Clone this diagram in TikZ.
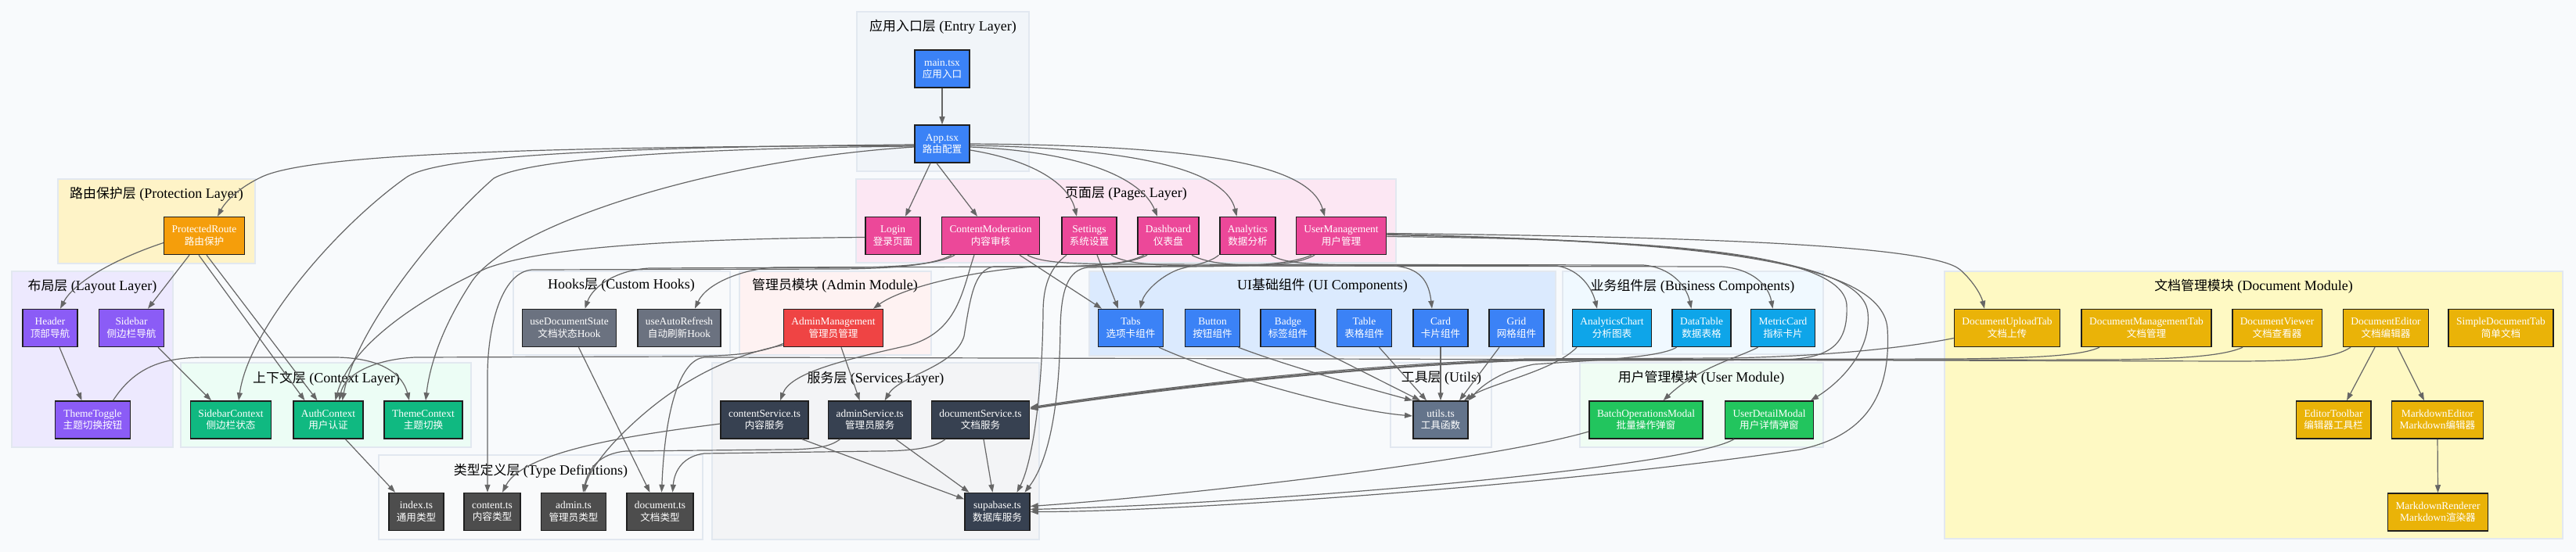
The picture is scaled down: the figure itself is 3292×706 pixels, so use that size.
\documentclass[tikz,border=0pt]{standalone}
\usepackage{fontspec}
\setmainfont{Liberation Serif}
\newfontfamily\cjkfont[Scale=0.94]{Noto Sans CJK SC}
\newcommand{\zhtext}[1]{{\cjkfont #1}}
\newcommand{\nodefont}{\fontsize{13.4}{15.5}\selectfont}
\newcommand{\titlefont}{\fontsize{18}{21}\selectfont}
\usetikzlibrary{arrows.meta}
\definecolor{bgc}{HTML}{F8FAFC}
\definecolor{clborder}{HTML}{E2E8F0}
\definecolor{edgec}{HTML}{666666}
\definecolor{nborder}{HTML}{1F1F1F}
\definecolor{cEntry}{HTML}{F1F5F9}
\definecolor{cPages}{HTML}{FCE7F3}
\definecolor{cProt}{HTML}{FEF3C7}
\definecolor{cLayout}{HTML}{EDE9FE}
\definecolor{cCtx}{HTML}{ECFDF5}
\definecolor{cTypes}{HTML}{F9FAFB}
\definecolor{cHooks}{HTML}{F9FAFB}
\definecolor{cAdmin}{HTML}{FEF2F2}
\definecolor{cSvc}{HTML}{F3F4F6}
\definecolor{cUI}{HTML}{DBEAFE}
\definecolor{cUtils}{HTML}{F8FAFC}
\definecolor{cBiz}{HTML}{F0F9FF}
\definecolor{cUser}{HTML}{F0FDF4}
\definecolor{cDoc}{HTML}{FEF9C3}
\definecolor{nBlue}{HTML}{3B82F6}
\definecolor{nPink}{HTML}{EC4899}
\definecolor{nAmber}{HTML}{F59E0B}
\definecolor{nViolet}{HTML}{8B5CF6}
\definecolor{nEmerald}{HTML}{10B981}
\definecolor{nType}{HTML}{4D4D4D}
\definecolor{nHook}{HTML}{6B7280}
\definecolor{nRed}{HTML}{EF4444}
\definecolor{nSvc}{HTML}{374151}
\definecolor{nSlate}{HTML}{64748B}
\definecolor{nSky}{HTML}{0EA5E9}
\definecolor{nGreen}{HTML}{22C55E}
\definecolor{nYellow}{HTML}{EAB308}
\tikzset{
  nbox/.style={fill=#1, draw=nborder, line width=1.5pt, minimum height=48pt,
    inner xsep=10pt, inner ysep=1pt, align=center, text=white, font=\nodefont},
  cluster/.style={fill=#1, draw=clborder, line width=1.2pt},
  ctitle/.style={font=\titlefont, text=black, inner sep=0pt},
  conn/.style={draw=edgec, line width=1.2pt, -{Triangle[length=10pt,width=7pt]}}
}
\begin{document}
\begin{tikzpicture}[x=1pt,y=-1pt]
\useasboundingbox (0,0) rectangle (3292,706);
\fill[bgc] (0,0) rectangle (3292,706);
% clusters
\path[cluster=cEntry] (1095,15) rectangle (1315,219);
\path[cluster=cPages] (1094,229) rectangle (1784,336);
\path[cluster=cProt] (74,229) rectangle (326,337);
\path[cluster=cLayout] (15,347) rectangle (221,572);
\path[cluster=cCtx] (231,464) rectangle (602,572);
\path[cluster=cTypes] (484,582) rectangle (898,690);
\path[cluster=cHooks] (656,347) rectangle (933,454);
\path[cluster=cAdmin] (945,347) rectangle (1190,454);
\path[cluster=cSvc] (910,464) rectangle (1328,690);
\path[cluster=cUI] (1392,347) rectangle (1988,455);
\path[cluster=cUtils] (1777,464) rectangle (1906,572);
\path[cluster=cBiz] (1997,347) rectangle (2330,453);
\path[cluster=cUser] (2019,464) rectangle (2330,572);
\path[cluster=cDoc] (2485,347) rectangle (3275,689);
% titles
\node[ctitle] (tEntry) at (1205,34) {\zhtext{应用入口层} (Entry Layer)};
\node[ctitle] (tPages) at (1439,248) {\zhtext{页面层} (Pages Layer)};
\node[ctitle] (tProt) at (200,248) {\zhtext{路由保护层} (Protection Layer)};
\node[ctitle] (tLayout) at (118,366) {\zhtext{布局层} (Layout Layer)};
\node[ctitle] (tCtx) at (417,484) {\zhtext{上下文层} (Context Layer)};
\node[ctitle] (tTypes) at (691,602) {\zhtext{类型定义层} (Type Definitions)};
\node[ctitle] (tHooks) at (794,365) {Hooks\zhtext{层} (Custom Hooks)};
\node[ctitle] (tAdmin) at (1067,365) {\zhtext{管理员模块} (Admin Module)};
\node[ctitle] (tSvc) at (1119,484) {\zhtext{服务层} (Services Layer)};
\node[ctitle] (tUI) at (1690,365) {UI\zhtext{基础组件} (UI Components)};
\node[ctitle] (tUtils) at (1842,484) {\zhtext{工具层} (Utils)};
\node[ctitle] (tBiz) at (2163,366) {\zhtext{业务组件层} (Business Components)};
\node[ctitle] (tUser) at (2174,483) {\zhtext{用户管理模块} (User Module)};
\node[ctitle] (tDoc) at (2880,366) {\zhtext{文档管理模块} (Document Module)};
% nodes
\node[nbox=nBlue] (main) at (1204,88) {main.tsx\\\zhtext{应用入口}};
\node[nbox=nBlue] (app) at (1204,184) {App.tsx\\\zhtext{路由配置}};
\node[nbox=nPink] (login) at (1141,301.5) {Login\\\zhtext{登录页面}};
\node[nbox=nPink] (cm) at (1266,301.5) {ContentModeration\\\zhtext{内容审核}};
\node[nbox=nPink] (settings) at (1392,301.5) {Settings\\\zhtext{系统设置}};
\node[nbox=nPink] (dash) at (1493,301.5) {Dashboard\\\zhtext{仪表盘}};
\node[nbox=nPink] (analytics) at (1594.5,301.5) {Analytics\\\zhtext{数据分析}};
\node[nbox=nPink] (um) at (1714,301.5) {UserManagement\\\zhtext{用户管理}};
\node[nbox=nAmber] (pr) at (261,301.5) {ProtectedRoute\\\zhtext{路由保护}};
\node[nbox=nViolet] (header) at (64,419.5) {Header\\\zhtext{顶部导航}};
\node[nbox=nViolet] (sidebar) at (168,419.5) {Sidebar\\\zhtext{侧边栏导航}};
\node[nbox=nViolet] (ttoggle) at (118.5,537) {ThemeToggle\\\zhtext{主题切换按钮}};
\node[nbox=nEmerald] (sbctx) at (295,537) {SidebarContext\\\zhtext{侧边栏状态}};
\node[nbox=nEmerald] (authctx) at (419.5,537) {AuthContext\\\zhtext{用户认证}};
\node[nbox=nEmerald] (themectx) at (541,537) {ThemeContext\\\zhtext{主题切换}};
\node[nbox=nType] (indexts) at (532,654.5) {index.ts\\\zhtext{通用类型}};
\node[nbox=nType] (contentts) at (629,654.5) {content.ts\\\zhtext{内容类型}};
\node[nbox=nType] (admints) at (733,654.5) {admin.ts\\\zhtext{管理员类型}};
\node[nbox=nType] (documentts) at (843.5,654.5) {document.ts\\\zhtext{文档类型}};
\node[nbox=nHook] (uds) at (727.5,419.5) {useDocumentState\\\zhtext{文档状态}Hook};
\node[nbox=nHook] (uar) at (868,419.5) {useAutoRefresh\\\zhtext{自动刷新}Hook};
\node[nbox=nRed] (am) at (1065,419.5) {AdminManagement\\\zhtext{管理员管理}};
\node[nbox=nSvc] (csvc) at (977,537) {contentService.ts\\\zhtext{内容服务}};
\node[nbox=nSvc] (asvc) at (1111.6,537) {adminService.ts\\\zhtext{管理员服务}};
\node[nbox=nSvc] (dsvc) at (1253,537) {documentService.ts\\\zhtext{文档服务}};
\node[nbox=nSvc] (supa) at (1274.5,654.5) {supabase.ts\\\zhtext{数据库服务}};
\node[nbox=nBlue] (tabs) at (1445,419.5) {Tabs\\\zhtext{选项卡组件}};
\node[nbox=nBlue] (button) at (1549.5,419.5) {Button\\\zhtext{按钮组件}};
\node[nbox=nBlue] (badge) at (1646,419.5) {Badge\\\zhtext{标签组件}};
\node[nbox=nBlue] (table) at (1743.5,419.5) {Table\\\zhtext{表格组件}};
\node[nbox=nBlue] (card) at (1841,419.5) {Card\\\zhtext{卡片组件}};
\node[nbox=nBlue] (grid) at (1938,419.5) {Grid\\\zhtext{网格组件}};
\node[nbox=nSlate] (utils) at (1841,537) {utils.ts\\\zhtext{工具函数}};
\node[nbox=nSky] (achart) at (2060,419.5) {AnalyticsChart\\\zhtext{分析图表}};
\node[nbox=nSky] (dtable) at (2174.5,419.5) {DataTable\\\zhtext{数据表格}};
\node[nbox=nSky] (mcard) at (2278.5,419.5) {MetricCard\\\zhtext{指标卡片}};
\node[nbox=nGreen] (batch) at (2103.5,537) {BatchOperationsModal\\\zhtext{批量操作弹窗}};
\node[nbox=nGreen] (udetail) at (2261,537) {UserDetailModal\\\zhtext{用户详情弹窗}};
\node[nbox=nYellow] (dut) at (2565,419.5) {DocumentUploadTab\\\zhtext{文档上传}};
\node[nbox=nYellow] (dmt) at (2743,419.5) {DocumentManagementTab\\\zhtext{文档管理}};
\node[nbox=nYellow] (dview) at (2910,419.5) {DocumentViewer\\\zhtext{文档查看器}};
\node[nbox=nYellow] (dedit) at (3049,419.5) {DocumentEditor\\\zhtext{文档编辑器}};
\node[nbox=nYellow] (sdt) at (3196,419.5) {SimpleDocumentTab\\\zhtext{简单文档}};
\node[nbox=nYellow] (etool) at (2982,537) {EditorToolbar\\\zhtext{编辑器工具栏}};
\node[nbox=nYellow] (mdedit) at (3115,537) {MarkdownEditor\\Markdown\zhtext{编辑器}};
\node[nbox=nYellow] (mdrend) at (3115.5,655) {MarkdownRenderer\\Markdown\zhtext{渲染器}};
% edges: entry
\draw[conn] (main.south) -- (app.north);
\draw[conn] ([xshift=-15pt]app.south) -- ([xshift=16pt]login.north);
\draw[conn] ([xshift=-7pt]app.south) -- ([xshift=-17pt]cm.north);
\draw[conn] ([yshift=-8pt]app.east) .. controls (1320,205) and (1366,235) .. ([xshift=-16pt]settings.north);
\draw[conn] ([yshift=-4pt]app.east) .. controls (1400,195) and (1462,235) .. ([xshift=-14pt]dash.north);
\draw[conn] ([yshift=-2pt]app.east) .. controls (1480,190) and (1568,225) .. ([xshift=-14pt]analytics.north);
\draw[conn] (app.east) .. controls (1560,186) and (1675,215) .. ([xshift=-21pt]um.north);
\draw[conn] ([yshift=-2pt]app.west) .. controls (700,188) and (400,196) .. (335,226) .. controls (305,240) and (288,258) .. ([xshift=17pt]pr.north);
\draw[conn] ([yshift=-1pt]app.west) .. controls (800,188) and (560,198) .. (519,227) .. controls (430,290) and (318,420) .. ([xshift=10pt]sbctx.north);
\draw[conn] ([yshift=-3pt]app.west) .. controls (850,190) and (672,205) .. (631,228) .. controls (560,290) and (455,420) .. ([xshift=18pt]authctx.north);
\draw[conn] ([yshift=-4pt]app.west) .. controls (900,205) and (650,290) .. (603,360) .. controls (570,410) and (550,460) .. ([xshift=3pt]themectx.north);
% protection / layout / context
\draw[conn] ([yshift=-9pt]pr.west) .. controls (150,330) and (95,360) .. ([xshift=13pt]header.north);
\draw[conn] ([xshift=-19pt]pr.south) -- ([xshift=21pt]sidebar.north);
\draw[conn] ([xshift=-7pt]pr.south) -- ([xshift=-30pt]authctx.north);
\draw[conn] ([xshift=3pt]pr.south) -- ([xshift=-14pt]authctx.north);
\draw[conn] ([xshift=12pt]header.south) -- ([xshift=-14pt]ttoggle.north);
\draw[conn] ([xshift=34pt]sidebar.south) -- ([xshift=-25pt]sbctx.north);
\draw[conn] ([xshift=26pt]ttoggle.north) .. controls (175,465) and (215,457) .. (265,457) -- (430,457) .. controls (490,458) and (515,480) .. ([xshift=-18pt]themectx.north);
\draw[conn] ([yshift=-2pt]login.west) .. controls (800,306) and (680,322) .. (622,343) .. controls (540,380) and (448,440) .. ([xshift=9pt]authctx.north);
\draw[conn] ([yshift=-20pt]am.west) .. controls (970,452) and (940,455) .. (880,456) -- (530,457) .. controls (475,460) and (440,480) .. ([xshift=14pt]authctx.north);
\draw[conn] ([xshift=22pt]authctx.south) -- ([xshift=-27pt]indexts.north);
% hooks / admin / pages to the left
\draw[conn] ([xshift=12pt]uds.south) -- ([xshift=-13pt]documentts.north);
\draw[conn] ([xshift=-46pt]cm.south) .. controls (1200,338) and (1150,341) .. (1100,342) -- (830,343) .. controls (790,345) and (758,365) .. ([xshift=20pt]uds.north);
\draw[conn] ([xshift=-31pt]dash.south) .. controls (1440,338) and (1400,340) .. (1350,341) -- (990,342) .. controls (950,344) and (903,362) .. ([xshift=20pt]uar.north);
\draw[conn] ([xshift=-50pt]cm.south) .. controls (1190,340) and (1140,343) .. (1080,344) -- (680,345) .. controls (640,348) and (623,420) .. (623,480) -- ([xshift=-6pt]contentts.north);
\draw[conn] ([xshift=-21pt]cm.south) .. controls (1230,370) and (1225,425) .. (1160,442) .. controls (1070,462) and (1010,478) .. ([xshift=20pt]csvc.north);
\draw[conn] ([xshift=-34pt]um.south) .. controls (1660,338) and (1620,340) .. (1560,340) -- (1320,341) .. controls (1230,348) and (1150,370) .. ([xshift=51pt]am.north);
\draw[conn] ([xshift=10pt]am.south) -- ([xshift=-13pt]asvc.north);
\draw[conn] ([yshift=-22pt]am.west) .. controls (930,455) and (860,490) .. (795,555) .. controls (765,585) and (750,610) .. ([xshift=14pt]admints.north);
\draw[conn] ([xshift=-27pt]dash.south) .. controls (1440,340) and (1380,341) .. (1330,341) -- (1270,341) .. controls (1245,345) and (1240,380) .. (1232,430) .. controls (1220,470) and (1150,480) .. ([xshift=19pt]asvc.north);
\draw[conn] ([xshift=-29pt]settings.south) .. controls (1345,340) and (1333,360) .. (1333,400) .. controls (1332,500) and (1320,590) .. ([xshift=25pt]supa.north);
\draw[conn] ([xshift=-38pt]um.south) .. controls (1650,338) and (1600,341) .. (1500,341) -- (1390,342) .. controls (1365,345) and (1356,370) .. (1355,420) .. controls (1354,520) and (1340,590) .. ([xshift=35pt]supa.north);
% pages to UI / business
\draw[conn] ([xshift=37pt]cm.south) -- ([xshift=-37pt]tabs.north);
\draw[conn] ([xshift=10pt]settings.south) -- ([xshift=-16pt]tabs.north);
\draw[conn] ([xshift=-37pt]analytics.south) .. controls (1545,337) and (1520,340) .. (1505,345) .. controls (1480,355) and (1462,375) .. ([xshift=12pt]tabs.north);
\draw[conn] ([xshift=28pt]settings.south) .. controls (1440,338) and (1480,340) .. (1550,340) -- (1780,340) .. controls (1815,342) and (1826,360) .. ([xshift=-11pt]card.north);
\draw[conn] ([xshift=30pt]analytics.south) .. controls (1640,337) and (1680,339) .. (1750,339) -- (1990,340) .. controls (2020,345) and (2035,370) .. ([xshift=-19pt]achart.north);
\draw[conn] ([xshift=47pt]cm.south) .. controls (1330,336) and (1370,338) .. (1450,338) -- (2100,339) .. controls (2135,342) and (2155,365) .. ([xshift=-13pt]dtable.north);
\draw[conn] ([xshift=30pt]dash.south) .. controls (1545,338) and (1580,340) .. (1650,340) -- (2200,341) .. controls (2240,344) and (2260,365) .. ([xshift=-13pt]mcard.north);
% UI to utils
\draw[conn] ([xshift=36pt]tabs.south) .. controls (1560,480) and (1720,525) .. ([yshift=5pt]utils.west);
\draw[conn] ([xshift=33pt]button.south) .. controls (1650,470) and (1760,500) .. (utils.north west);
\draw[conn] ([xshift=34pt]badge.south) -- ([xshift=-26pt]utils.north);
\draw[conn] ([xshift=19pt]table.south) -- ([xshift=-18pt]utils.north);
\draw[conn] (card.south) -- (utils.north);
\draw[conn] ([xshift=-22pt]grid.south) -- ([xshift=24pt]utils.north);
\draw[conn] ([xshift=-45pt]achart.south) .. controls (1985,475) and (1905,490) .. ([xshift=30pt]utils.north);
\draw[conn] ([xshift=-32pt]dtable.south) .. controls (2120,458) and (2030,461) .. (1960,466) .. controls (1915,475) and (1892,495) .. (utils.north east);
\draw[conn] ([xshift=-32pt]mcard.south) .. controls (2220,458) and (2170,470) .. ([xshift=22pt]batch.north);
% user management to the right
\draw[conn] ([yshift=3pt]um.east) .. controls (2200,303) and (2470,315) .. (2505,345) .. controls (2522,360) and (2532,378) .. ([xshift=-29pt]dut.north);
\draw[conn] ([yshift=2pt]um.east) .. controls (2120,308) and (2380,325) .. (2387,400) .. controls (2392,450) and (2350,490) .. ([xshift=53pt]udetail.north);
\draw[conn] ([yshift=1pt]um.east) .. controls (2150,308) and (2405,330) .. (2412,420) .. controls (2418,520) and (2370,560) .. (2300,575) .. controls (2000,620) and (1500,655) .. (supa.east);
\draw[conn] ([yshift=-1pt]um.east) .. controls (2100,306) and (2355,320) .. (2360,390) .. controls (2362,440) and (2340,458) .. (2280,460) -- (1950,461) .. controls (1700,470) and (1450,500) .. ([yshift=14pt]dsvc.east);
% document module
\draw[conn] ([yshift=-13pt]dut.west) .. controls (2420,448) and (2300,457) .. (2200,458) -- (1950,459) .. controls (1700,468) and (1450,500) .. ([yshift=16pt]dsvc.east);
\draw[conn] ([xshift=-60pt]dmt.south) .. controls (2660,455) and (2600,458) .. (2500,459) -- (1950,460) .. controls (1700,470) and (1450,502) .. ([yshift=15pt]dsvc.east);
\draw[conn] ([xshift=-44pt]dview.south) .. controls (2840,456) and (2780,459) .. (2700,460) -- (1950,461) .. controls (1700,471) and (1450,503) .. ([yshift=14pt]dsvc.east);
\draw[conn] ([xshift=-45pt]dedit.south) .. controls (2980,460) and (2930,462) .. (2850,462) -- (900,457) .. controls (870,460) and (850,520) .. ([xshift=2pt]documentts.north);
\draw[conn] ([xshift=-14pt]dedit.south) -- ([xshift=17pt]etool.north);
\draw[conn] ([xshift=15pt]dedit.south) -- ([xshift=-17pt]mdedit.north);
\draw[conn] (mdedit.south) -- (mdrend.north);
% services
\draw[conn] ([yshift=-5pt]csvc.west) .. controls (820,555) and (670,575) .. ([xshift=13pt]contentts.north);
\draw[conn] ([xshift=48pt]csvc.south) -- ([yshift=16pt]supa.west);
\draw[conn] ([xshift=-38pt]asvc.south) .. controls (1060,572) and (1040,575) .. (1000,575) -- (800,577) .. controls (765,580) and (752,600) .. ([xshift=12pt]admints.north);
\draw[conn] ([xshift=33pt]asvc.south) -- ([xshift=-36pt]supa.north);
\draw[conn] ([xshift=-45pt]dsvc.south) .. controls (1195,572) and (1170,577) .. (1120,577) -- (900,580) .. controls (875,583) and (862,600) .. ([xshift=16pt]documentts.north);
\draw[conn] ([xshift=4pt]dsvc.south) -- ([xshift=-6pt]supa.north);
\draw[conn] ([yshift=-15pt]batch.west) .. controls (1900,590) and (1500,635) .. ([yshift=7pt]supa.east);
\draw[conn] ([xshift=-45pt]udetail.south) .. controls (2150,600) and (1600,645) .. ([yshift=3pt]supa.east);
\end{tikzpicture}
\end{document}
